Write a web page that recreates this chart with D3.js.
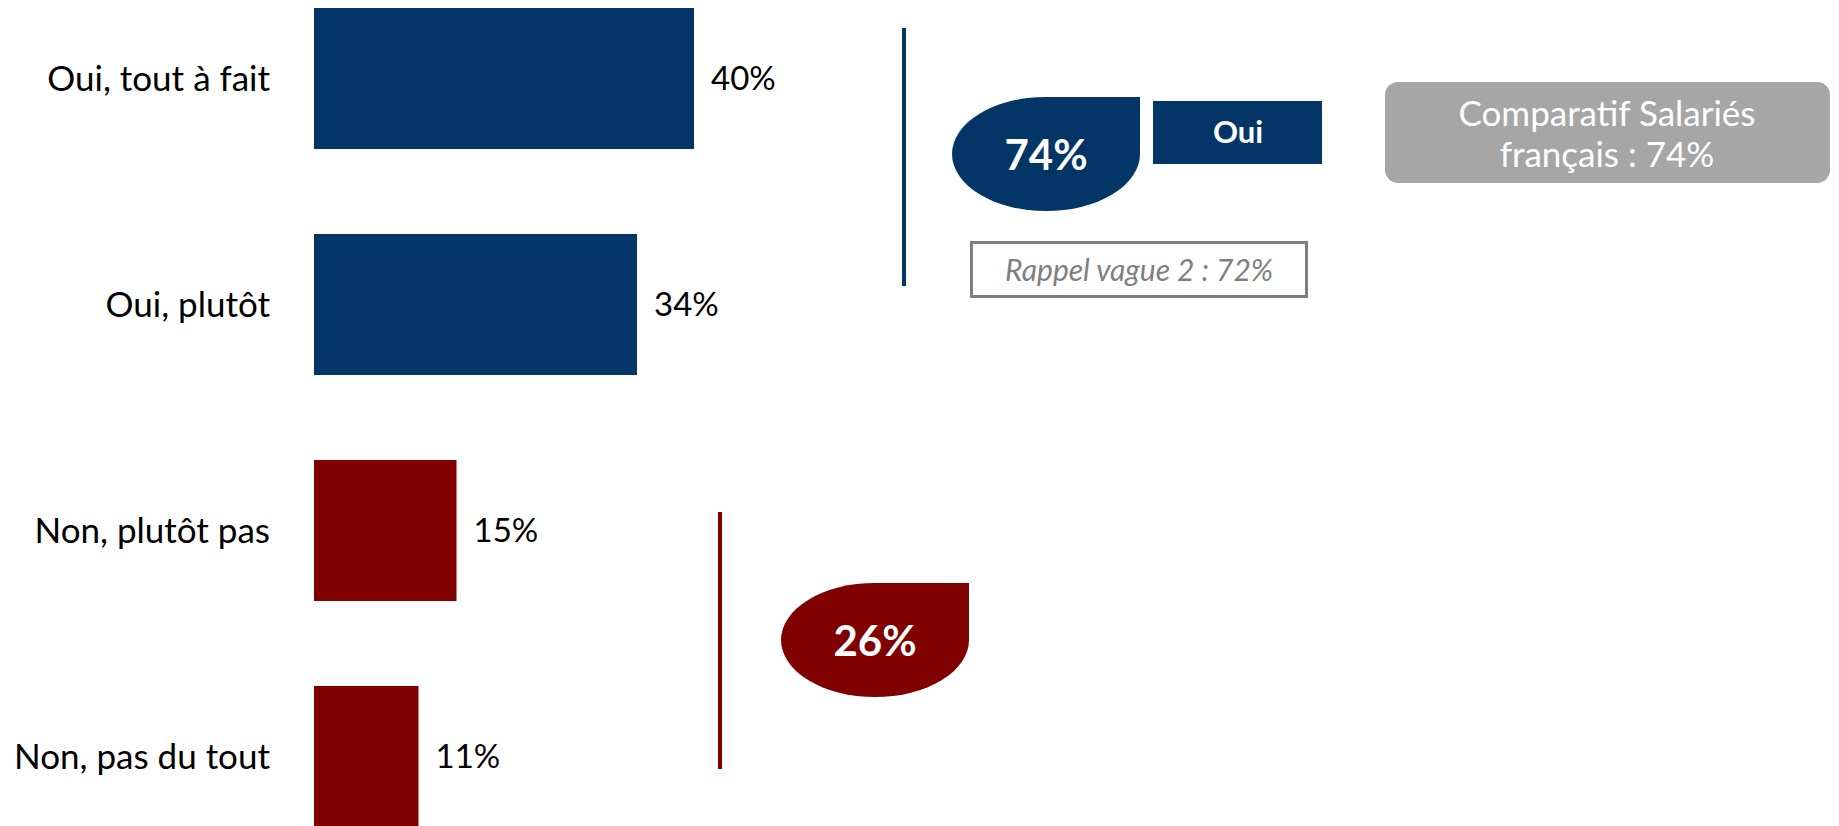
<!DOCTYPE html>
<html>
<head>
<meta charset="utf-8">
<script src="https://cdn.jsdelivr.net/npm/d3@7"></script>
<style>
  html, body { margin: 0; padding: 0; background: #ffffff; }
  svg { display: block; }
  text { font-family: Lato, "Open Sans", sans-serif; }
</style>
</head>
<body>
<svg id="chart" width="1839" height="826"></svg>
<script>
// ---- data ----
const categories = ["Oui, tout à fait", "Oui, plutôt", "Non, plutôt pas", "Non, pas du tout"];
const values = [40, 34, 15, 11];
const groups = ["oui", "oui", "non", "non"];
const totalOui = 74;
const totalNon = 26;
const ouiLabel = "Oui";
const rappelLabel = "Rappel vague 2 : 72%";
const comparatifLines = ["Comparatif Salariés", "français : 74%"];

const colors = { oui: "#033567", non: "#800000" };

const svg = d3.select("#chart");

const x = d3.scaleLinear().domain([0, 40]).range([314, 694]);
const y = d3.scaleBand().domain(categories).range([8, 827]).paddingInner(0.376).paddingOuter(0);

const data = categories.map((c, i) => ({ cat: c, v: values[i], g: groups[i] }));

// bars
svg.append("g").selectAll("rect").data(data).join("rect")
  .attr("x", x(0))
  .attr("y", d => y(d.cat))
  .attr("width", d => x(d.v) - x(0))
  .attr("height", y.bandwidth())
  .attr("fill", d => colors[d.g]);

// category labels (axis)
const axis = d3.axisLeft(y).tickSize(0).tickPadding(0);
const ag = svg.append("g").attr("transform", `translate(270,0)`).call(axis);
ag.select(".domain").remove();
ag.selectAll("text")
  .attr("font-family", "Lato, 'Open Sans', sans-serif")
  .attr("font-size", 35)
  .attr("fill", "#000")
  .attr("dy", "0.36em");

// value labels
svg.append("g").selectAll("text").data(data).join("text")
  .attr("x", d => x(d.v) + 17)
  .attr("y", d => y(d.cat) + y.bandwidth() / 2)
  .attr("dy", "0.36em")
  .attr("font-size", 33)
  .attr("fill", "#000")
  .text(d => d.v + "%");

// group brackets
svg.append("line")
  .attr("x1", 904).attr("x2", 904)
  .attr("y1", 28).attr("y2", 286)
  .attr("stroke", colors.oui).attr("stroke-width", 4);
svg.append("line")
  .attr("x1", 720).attr("x2", 720)
  .attr("y1", 512).attr("y2", 769)
  .attr("stroke", colors.non).attr("stroke-width", 4);

// teardrop shapes
function drop(x0, y0, w, h) {
  const rx = w / 2, ry = h / 2, cx = x0 + rx, cy = y0 + ry, x1 = x0 + w, y1 = y0 + h;
  return `M${x0},${cy} A${rx},${ry} 0 0 1 ${cx},${y0} L${x1},${y0} L${x1},${cy} A${rx},${ry} 0 0 1 ${cx},${y1} A${rx},${ry} 0 0 1 ${x0},${cy} Z`;
}
svg.append("path").attr("d", drop(952, 97, 188, 114)).attr("fill", colors.oui);
svg.append("text").attr("x", 1046).attr("y", 155).attr("dy", "0.36em")
  .attr("text-anchor", "middle").attr("font-weight", 700).attr("font-size", 42)
  .attr("fill", "#fff").text(totalOui + "%");

svg.append("path").attr("d", drop(781, 583, 188, 114)).attr("fill", colors.non);
svg.append("text").attr("x", 875).attr("y", 641).attr("dy", "0.36em")
  .attr("text-anchor", "middle").attr("font-weight", 700).attr("font-size", 42)
  .attr("fill", "#fff").text(totalNon + "%");

// Oui box
svg.append("rect").attr("x", 1153).attr("y", 101).attr("width", 169).attr("height", 63)
  .attr("fill", colors.oui);
svg.append("text").attr("x", 1238).attr("y", 132).attr("dy", "0.36em")
  .attr("text-anchor", "middle").attr("font-weight", 700).attr("font-size", 31)
  .attr("fill", "#fff").text(ouiLabel);

// Rappel box
svg.append("rect").attr("x", 971.5).attr("y", 242.5).attr("width", 335).attr("height", 54)
  .attr("fill", "#fff").attr("stroke", "#7f7f7f").attr("stroke-width", 3);
svg.append("text").attr("x", 1139).attr("y", 270).attr("dy", "0.36em")
  .attr("text-anchor", "middle").attr("font-style", "italic").attr("font-size", 30)
  .attr("fill", "#7f7f7f").text(rappelLabel);

// Comparatif box
svg.append("rect").attr("x", 1385).attr("y", 82).attr("width", 445).attr("height", 101)
  .attr("rx", 13).attr("ry", 13).attr("fill", "#a6a6a6");
svg.append("g").selectAll("text").data(comparatifLines).join("text")
  .attr("x", 1607)
  .attr("y", (d, i) => 113 + i * 41)
  .attr("dy", "0.36em")
  .attr("text-anchor", "middle").attr("font-size", 35)
  .attr("fill", "#fff").text(d => d);
</script>
</body>
</html>
